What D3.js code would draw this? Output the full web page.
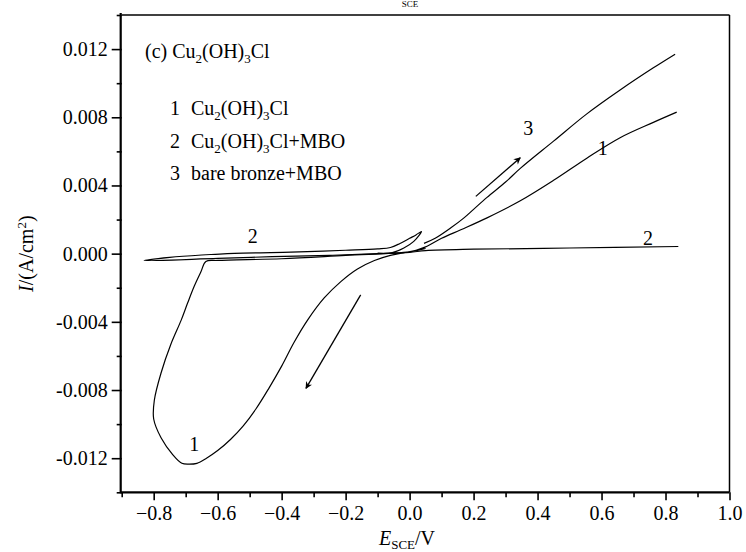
<!DOCTYPE html>
<html><head><meta charset="utf-8">
<script src="https://cdn.jsdelivr.net/npm/d3@7"></script>
<style>body{margin:0;background:#fff}svg{display:block}text{font-family:"Liberation Serif","Times New Roman",Times,serif;fill:#000}</style>
</head><body><svg id="c" width="746" height="552"></svg>
<script>
// ---- data (E in V vs SCE, I in A/cm^2) ----
const xMajor = [-0.8,-0.6,-0.4,-0.2,0.0,0.2,0.4,0.6,0.8,1.0];
const xMinor = [-0.9,-0.7,-0.5,-0.3,-0.1,0.1,0.3,0.5,0.7,0.9];
const yMajor = [-0.012,-0.008,-0.004,0.000,0.004,0.008,0.012];
const yMinor = [-0.014,-0.010,-0.006,-0.002,0.002,0.006,0.010,0.014];

// curve 1: Cu2(OH)3Cl
const curve1E = [0.835,0.762,0.658,0.554,0.45,0.346,0.242,0.16,0.1,0.05,0.02,-0.02,-0.06,-0.11,-0.163,-0.215,-0.267,-0.319,-0.361,-0.40,-0.44,-0.48,-0.52,-0.56,-0.6,-0.635,-0.665,-0.69,-0.712,-0.74,-0.777,-0.8,-0.798,-0.777,-0.746,-0.714,-0.694,-0.673,-0.652,-0.637,-0.6,-0.4,-0.2,0.0,0.05];
const curve1I = [0.0083,0.0077,0.0068,0.0056,0.0043,0.0031,0.0021,0.0014,0.0009,0.0004,0.0002,0.00005,-0.0001,-0.0004,-0.0009,-0.00164,-0.0026,-0.0039,-0.0052,-0.0066,-0.0079,-0.0091,-0.0101,-0.0109,-0.01155,-0.0120,-0.0123,-0.01235,-0.0123,-0.0118,-0.0108,-0.0097,-0.0086,-0.0070,-0.0053,-0.0039,-0.0029,-0.0019,-0.00105,-0.00046,-0.0004,-0.0003,-0.0001,0.0001,0.0003];

// curve 2: Cu2(OH)3Cl+MBO
const curve2E = [-0.1,-0.054,-0.018,0.013,0.037,0.02,0.0,-0.03,-0.06,-0.1,-0.2,-0.32,-0.434,-0.548,-0.65,-0.75,-0.83,-0.6,-0.43,-0.25,-0.1,0.0,0.05,0.2,0.5,0.84];
const curve2I = [0.00003,0.00006,0.00033,0.00072,0.0013,0.0011,0.0009,0.0006,0.00036,0.00028,0.0002,0.00012,0.00006,0.00002,-0.00008,-0.00022,-0.0004,-0.00028,-0.00018,-0.0001,0.0,0.00008,0.00018,0.00026,0.00033,0.00042];

// curve 3: bare bronze+MBO
const curve3E = [0.045,0.08,0.128,0.17,0.2,0.242,0.3,0.346,0.45,0.554,0.658,0.762,0.83];
const curve3I = [0.0006,0.0009,0.0015,0.0021,0.0026,0.0033,0.0042,0.0050,0.0066,0.0082,0.0096,0.0109,0.0117];

// annotations
const curveLabels = [
  {t:"1", E:0.604, I:0.0058},
  {t:"1", E:-0.673, I:-0.0116},
  {t:"2", E:-0.49, I:0.0006},
  {t:"2", E:0.745, I:0.0005},
  {t:"3", E:0.371, I:0.00696}
];
const arrowUp = {E0:0.207, I0:0.00336, E1:0.346, I1:0.00563};
const arrowDown = {E0:-0.153, I0:-0.00242, E1:-0.324, I1:-0.0079};

// ---- drawing ----
const svg = d3.select("#c");
const x = d3.scaleLinear().domain([-0.9,1.0]).range([121.7,729.5]);
const y = d3.scaleLinear().domain([-0.014,0.014]).range([492.3,15]);

svg.append("defs").append("marker").attr("id","ah").attr("viewBox","0 0 10 10")
  .attr("refX",9).attr("refY",5).attr("markerWidth",9).attr("markerHeight",7)
  .attr("markerUnits","userSpaceOnUse").attr("orient","auto")
  .append("path").attr("d","M0,0 L10,5 L0,10 L3,5 Z").attr("fill","#000");

// frame (top/right thin)
svg.append("line").attr("x1",x(-0.9)).attr("x2",x(1.0)).attr("y1",y(0.014)).attr("y2",y(0.014)).attr("stroke","#000").attr("stroke-width",1.5);
svg.append("line").attr("x1",x(1.0)).attr("x2",x(1.0)).attr("y1",y(0.014)).attr("y2",y(-0.014)).attr("stroke","#000").attr("stroke-width",1.5);

const fmtY = v => d3.format(".3f")(v).replace("−","-");
const fmtX = v => d3.format(".1f")(v).replace("−","\u2212");

const gy = svg.append("g").attr("transform",`translate(${x(-0.9)},0)`);
gy.call(d3.axisLeft(y).tickValues(yMajor).tickSize(10).tickPadding(4).tickFormat(fmtY));
const gy2 = svg.append("g").attr("transform",`translate(${x(-0.9)},0)`);
gy2.call(d3.axisLeft(y).tickValues(yMinor).tickSize(5).tickFormat(""));
const gx = svg.append("g").attr("transform",`translate(0,${y(-0.014)})`);
gx.call(d3.axisBottom(x).tickValues(xMajor).tickSize(8).tickPadding(6).tickFormat(fmtX));
const gx2 = svg.append("g").attr("transform",`translate(0,${y(-0.014)})`);
gx2.call(d3.axisBottom(x).tickValues(xMinor).tickSize(5).tickFormat(""));
[gy,gy2,gx,gx2].forEach(g=>{
  g.attr("font-family",null);
  g.select(".domain").attr("stroke","#000").attr("stroke-width",2.2);
  g.selectAll(".tick line").attr("stroke","#000").attr("stroke-width",1.6);
  g.selectAll(".tick text").style("font-size","20px").attr("fill","#000");
});
gy.select(".domain").attr("d",`M-1,${y(-0.014)+1}V${y(0.014)-2}`);
gx.select(".domain").attr("d",`M${x(-0.9)-1},0H${x(1.0)}`);
gy2.select(".domain").remove(); gx2.select(".domain").remove();

// curves
const line = d3.line().x(d=>x(d[0])).y(d=>y(d[1])).curve(d3.curveCatmullRom.alpha(0.5));
const zipE = (E,I)=>E.map((e,i)=>[e,I[i]]);
[[curve1E,curve1I],[curve2E,curve2I],[curve3E,curve3I]].forEach(([E,I])=>{
  svg.append("path").attr("d",line(zipE(E,I))).attr("fill","none").attr("stroke","#000").attr("stroke-width",1.2);
});

// arrows
[arrowUp,arrowDown].forEach(a=>{
  svg.append("line").attr("x1",x(a.E0)).attr("y1",y(a.I0)).attr("x2",x(a.E1)).attr("y2",y(a.I1))
    .attr("stroke","#000").attr("stroke-width",1.3).attr("marker-end","url(#ah)");
});

// curve labels
svg.selectAll("text.cl").data(curveLabels).enter().append("text").attr("class","cl")
  .attr("x",d=>x(d.E)).attr("y",d=>y(d.I)).attr("text-anchor","middle")
  .style("font-size","20px").text(d=>d.t);

// legend / title block
function chem(xp, yp, parts){
  const el = svg.append("text").attr("x",xp).attr("y",yp).style("font-size","20px");
  parts.forEach(p=>{
    if(p.sub) el.append("tspan").attr("dy",5).style("font-size","13px").text(p.sub);
    else if(p.after) el.append("tspan").attr("dy",-5).text(p.after);
    else el.append("tspan").text(p.t);
  });
  return el;
}
chem(145,58,[{t:"(c) Cu"},{sub:"2"},{after:"(OH)"},{sub:"3"},{after:"Cl"}]);
svg.append("text").attr("x",170).attr("y",115).style("font-size","20px").text("1");
svg.append("text").attr("x",170).attr("y",148).style("font-size","20px").text("2");
svg.append("text").attr("x",170).attr("y",180).style("font-size","20px").text("3");
chem(191,115,[{t:"Cu"},{sub:"2"},{after:"(OH)"},{sub:"3"},{after:"Cl"}]);
chem(191,148,[{t:"Cu"},{sub:"2"},{after:"(OH)"},{sub:"3"},{after:"Cl+MBO"}]);
svg.append("text").attr("x",191).attr("y",180).style("font-size","20px").text("bare bronze+MBO");

// axis titles
const xt = svg.append("text").attr("x",407).attr("y",545).attr("text-anchor","middle").style("font-size","20px");
xt.append("tspan").style("font-style","italic").text("E");
xt.append("tspan").attr("dy",4).style("font-size","13px").text("SCE");
xt.append("tspan").attr("dy",-4).text("/V");
const yt = svg.append("text").attr("transform",`translate(33,${y(0)}) rotate(-90)`).attr("text-anchor","middle").style("font-size","20px");
yt.append("tspan").style("font-style","italic").text("I");
yt.append("tspan").text("/(A/cm");
yt.append("tspan").attr("dy",-7).style("font-size","13px").text("2");
yt.append("tspan").attr("dy",7).text(")");

// fragment from the page above
svg.append("text").attr("x",410).attr("y",7).attr("text-anchor","middle").style("font-size","9px").text("SCE");
</script></body></html>
